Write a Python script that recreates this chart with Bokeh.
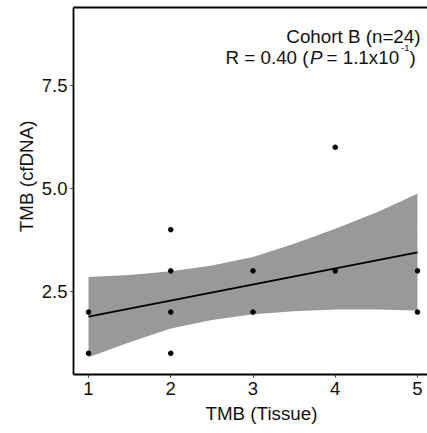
from bokeh.plotting import figure
from bokeh.models import Range1d, FixedTicker, LinearAxis, Label, Title
from bokeh.embed import file_html
from bokeh.resources import INLINE

# ---- data ----
tissue_tmb = [1, 1, 2, 2, 2, 2, 3, 3, 4, 4, 5, 5]
cfdna_tmb = [2, 1, 4, 3, 2, 1, 3, 2, 6, 3, 3, 2]

fit_x = [1, 5]
fit_y = [1.89, 3.45]

band_x = [1, 1.5, 2, 2.5, 3, 3.5, 4, 4.5, 5]
band_upper = [2.85, 2.90, 2.99, 3.13, 3.34, 3.66, 4.02, 4.42, 4.87]
band_lower = [0.905, 1.27, 1.60, 1.81, 1.95, 2.02, 2.06, 2.06, 2.04]

x_ticks = [1, 2, 3, 4, 5]
y_ticks = [2.5, 5.0, 7.5]
y_tick_labels = ["2.5", "5.0", "7.5"]

title_line1 = "Cohort B (n=24)"
x_title = "TMB (Tissue)"
y_title = "TMB (cfDNA)"

FONT = "Liberation Sans"
FS = "18.8px"
TXT = "#111111"

p = figure(width=427, height=433, output_backend="svg", toolbar_location=None,
           x_range=Range1d(0.8176, 5.1216), y_range=Range1d(0.485, 9.393))
p.min_border_left = 73
p.min_border_right = 0
p.min_border_top = 7
p.min_border_bottom = 59
p.outline_line_color = None
p.background_fill_color = "white"
p.border_fill_color = "white"
p.xgrid.visible = False
p.ygrid.visible = False

# confidence band
p.varea(x=band_x, y1=band_lower, y2=band_upper, fill_color="#999999", fill_alpha=1.0)
# regression line
p.line(fit_x, fit_y, line_color="black", line_width=1.8)
# points
p.scatter(tissue_tmb, cfdna_tmb, size=4.6, fill_color="black", line_color="black")

for ax in (p.xaxis[0], p.yaxis[0]):
    ax.axis_line_width = 1.8
    ax.axis_line_color = "black"
    ax.major_tick_line_color = "#333333"
    ax.major_tick_line_width = 1
    ax.major_tick_out = 3
    ax.major_tick_in = 0
    ax.minor_tick_line_color = None
    ax.major_label_text_font = FONT
    ax.major_label_text_font_size = "18.5px"
    ax.major_label_text_color = TXT

p.xaxis[0].ticker = FixedTicker(ticks=x_ticks)
p.xaxis[0].major_label_standoff = 4
p.yaxis[0].ticker = FixedTicker(ticks=y_ticks)
p.yaxis[0].major_label_overrides = {t: s for t, s in zip(y_ticks, y_tick_labels)}
p.yaxis[0].major_label_standoff = 3

# top border line of the panel
top = LinearAxis(ticker=FixedTicker(ticks=[]), major_label_text_font_size="0px",
                 major_tick_out=0, major_tick_in=0, minor_tick_out=0, minor_tick_in=0,
                 major_label_standoff=0, axis_line_width=1.8, axis_line_color="black")
p.add_layout(top, "above")

# axis titles
p.add_layout(Title(text=x_title, align="left", offset=132, standoff=6,
                   text_font=FONT, text_font_size=FS, text_font_style="normal",
                   text_color=TXT), "below")
p.add_layout(Title(text=y_title, align="left", offset=142.3, standoff=3,
                   text_font=FONT, text_font_size=FS, text_font_style="normal",
                   text_color=TXT), "left")

# annotation
p.add_layout(Label(x=347, y=338.3, x_units="screen", y_units="screen", text=title_line1,
                   text_align="right", text_baseline="alphabetic",
                   text_font=FONT, text_font_size=FS, text_color=TXT))
pieces = [
    (152.0, 317.5, "R = 0.40 (", "normal", FS),
    (236.5, 317.5, "P", "italic", FS),
    (253.0, 317.5, "= 1.1x10", "normal", FS),
    (327.5, 326.5, "-1", "normal", "9.5px"),
    (336.0, 317.5, ")", "normal", FS),
]
for x, y, t, style, fs in pieces:
    p.add_layout(Label(x=x, y=y, x_units="screen", y_units="screen", text=t,
                       text_align="left", text_baseline="alphabetic",
                       text_font=FONT, text_font_size=fs, text_font_style=style,
                       text_color=TXT))

open("out.html", "w").write(file_html(p, INLINE))
